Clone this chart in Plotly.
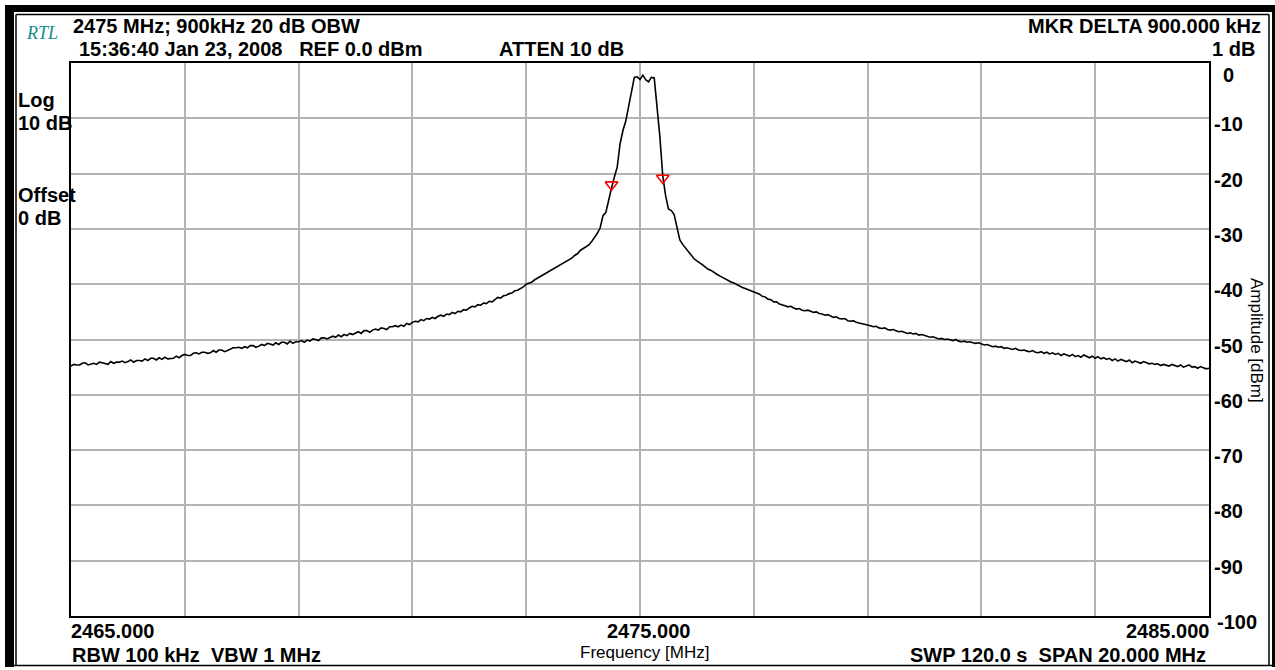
import numpy as np
import plotly.graph_objects as go

# ---------------- data ----------------
freq_start = 2465.0
freq_stop = 2485.0
n_points = 401
freq = np.linspace(freq_start, freq_stop, n_points)

amplitude = [
    -54.8, -54.5, -54.6, -54.6, -54.3, -54.2, -54.6, -54.4, -54.3, -54.5, -54.1, -54.2, -54.4, -54.5, -54.0, -54.3, -54.1, -54.1, -53.9, -54.2,
    -54.0, -53.7, -54.1, -53.8, -53.8, -53.9, -53.5, -53.8, -53.4, -53.4, -53.7, -53.3, -53.6, -53.2, -53.5, -53.5, -53.4, -53.0, -53.3, -52.9,
    -52.7, -52.9, -52.9, -52.5, -52.4, -52.6, -52.3, -52.3, -52.5, -52.4, -52.0, -52.3, -51.9, -51.9, -52.2, -52.0, -51.8, -51.5, -51.5, -51.4,
    -51.6, -51.3, -51.5, -51.1, -51.1, -51.4, -51.2, -50.9, -51.1, -50.7, -50.8, -51.0, -50.6, -50.9, -50.5, -50.5, -50.8, -50.3, -50.7, -50.4,
    -50.4, -50.2, -50.5, -50.1, -50.3, -49.9, -50.0, -50.2, -49.7, -49.7, -49.9, -49.6, -49.4, -49.6, -49.2, -49.5, -49.1, -49.3, -48.9, -49.1,
    -48.8, -48.6, -48.9, -48.4, -48.4, -48.7, -48.3, -48.1, -48.3, -47.9, -48.0, -48.2, -47.7, -47.7, -47.5, -47.7, -47.4, -47.6, -47.1, -47.3,
    -46.9, -46.7, -46.8, -46.4, -46.6, -46.2, -46.3, -46.0, -46.2, -45.8, -45.6, -45.8, -45.4, -45.5, -45.1, -45.3, -44.9, -45.0, -44.6, -44.7,
    -44.3, -44.0, -44.1, -43.7, -43.8, -43.4, -43.5, -43.1, -43.2, -42.8, -42.4, -42.5, -42.1, -42.0, -41.7, -41.6, -41.2, -41.1, -40.8, -40.5,
    -40.0, -39.8, -39.6, -39.2, -38.9, -38.6, -38.4, -38.0, -37.7, -37.5, -37.2, -36.8, -36.5, -36.2, -35.9, -35.6, -35.3, -34.8, -34.5, -33.9,
    -33.6, -33.3, -32.9, -32.3, -31.6, -30.8, -29.8, -27.6, -27.0, -24.6, -22.6, -20.6, -18.8, -14.6, -12.2, -10.5, -8.0, -5.0, -2.6, -2.5,
    -3.0, -2.2, -3.0, -3.4, -2.6, -2.7, -8.0, -13.4, -20.4, -24.0, -26.4, -26.7, -27.4, -29.8, -32.0, -32.8, -33.5, -34.0, -34.8, -35.4,
    -35.8, -36.1, -36.5, -36.9, -37.3, -37.5, -37.9, -38.2, -38.5, -38.8, -39.1, -39.3, -39.6, -39.8, -40.1, -40.3, -40.6, -40.8, -41.0, -41.2,
    -41.4, -41.7, -41.8, -42.2, -42.3, -42.7, -42.8, -43.2, -43.2, -43.6, -43.7, -43.9, -44.1, -44.0, -44.3, -44.5, -44.4, -44.7, -44.8, -44.7,
    -44.9, -45.1, -45.0, -45.3, -45.4, -45.6, -45.5, -45.8, -46.0, -45.9, -46.2, -46.3, -46.2, -46.6, -46.7, -46.6, -46.9, -47.0, -47.1, -47.2,
    -47.4, -47.5, -47.7, -47.6, -47.9, -48.0, -47.9, -48.2, -48.3, -48.2, -48.4, -48.6, -48.5, -48.7, -48.9, -48.8, -49.0, -48.9, -49.2, -49.1,
    -49.3, -49.4, -49.6, -49.5, -49.7, -49.9, -49.8, -50.0, -49.9, -50.1, -50.2, -50.0, -50.3, -50.4, -50.3, -50.5, -50.4, -50.6, -50.7, -50.6,
    -50.8, -51.0, -50.9, -51.1, -51.3, -51.2, -51.4, -51.3, -51.6, -51.5, -51.7, -51.8, -51.6, -51.9, -52.0, -51.9, -52.1, -52.2, -52.0, -52.3,
    -52.4, -52.2, -52.5, -52.3, -52.6, -52.4, -52.7, -52.5, -52.9, -52.6, -52.8, -53.0, -52.7, -53.1, -52.9, -53.2, -52.8, -53.1, -53.3, -53.0,
    -53.4, -53.1, -53.5, -53.3, -53.6, -53.4, -53.8, -53.5, -53.9, -53.6, -53.8, -54.0, -53.7, -54.2, -53.9, -54.1, -54.3, -54.0, -54.2, -54.4,
    -54.3, -54.5, -54.4, -54.7, -54.5, -54.6, -54.8, -54.5, -54.7, -54.9, -54.6, -55.0, -54.8, -54.6, -55.0, -54.9, -55.2, -54.9, -55.1, -55.3,
    -55.2,
]

marker_freqs = [2474.50, 2475.40]
marker_amps = [-22.0, -20.8]

ytick_values = [0, -10, -20, -30, -40, -50, -60, -70, -80, -90, -100]
ytick_labels = ["0", "-10", "-20", "-30", "-40", "-50", "-60", "-70", "-80", "-90", "-100"]
xtick_values = [2465.0, 2475.0, 2485.0]
xtick_labels = ["2465.000", "2475.000", "2485.000"]
xgrid_values = [2465, 2467, 2469, 2471, 2473, 2475, 2477, 2479, 2481, 2483, 2485]

# ---------------- layout geometry ----------------
W, H = 1275, 670
L, R, T, B = 71, 66, 63, 54
PW, PH = W - L - R, H - T - B


def px(X):
    return (X - L) / PW


def py(Y):
    return (H - B - Y) / PH


SANS = "Liberation Sans, Arial, sans-serif"
BOLD = dict(family=SANS, size=20, color="black", weight="bold")
NB = "\u00a0"

fig = go.Figure()
fig.add_trace(go.Scatter(
    x=freq, y=amplitude, mode="lines",
    line=dict(color="black", width=1.6), hoverinfo="skip", showlegend=False,
))
fig.add_trace(go.Scatter(
    x=marker_freqs, y=marker_amps, mode="markers",
    marker=dict(symbol="triangle-down-open", size=11, color="red", line=dict(width=1.6, color="red")),
    hoverinfo="skip", showlegend=False,
))

fig.update_xaxes(
    range=[freq_start, freq_stop], tickvals=xgrid_values, showticklabels=False,
    showgrid=True, gridcolor="#b4b4b4", gridwidth=2, zeroline=False,
    showline=True, linecolor="black", linewidth=2, mirror=True, ticks="",
)
fig.update_yaxes(
    range=[-100, 0], tickvals=ytick_values, showticklabels=False, side="right",
    showgrid=True, gridcolor="#b4b4b4", gridwidth=2, zeroline=False,
    showline=True, linecolor="black", linewidth=2, mirror=True, ticks="",
)

ann = []


def text(X, Y, s, anchor="left", font=None, **kw):
    ann.append(dict(x=px(X), y=py(Y), xref="paper", yref="paper", text=s,
                    showarrow=False, xanchor=anchor, yanchor="middle",
                    font=font or BOLD, **kw))


# header
text(24, 33, "RTL", font=dict(family="Liberation Serif, Times New Roman, serif", size=18,
                              color="#178a90", style="italic"))
text(71, 26, "2475 MHz; 900kHz 20 dB OBW")
text(77, 49, "15:36:40 Jan 23, 2008" + NB + NB + " REF 0.0 dBm")
text(497, 49, "ATTEN 10 dB")
text(1263, 26, "MKR DELTA 900.000 kHz", anchor="right")
text(1257, 49, "1 dB", anchor="right")
# left side labels
text(16, 100, "Log")
text(16, 123, "10 dB")
text(16, 195, "Offset")
text(16, 218, "0 dB")
# footer
text(70, 655, "RBW 100 kHz" + NB + " VBW 1 MHz")
text(644, 652, "Frequency [MHz]", anchor="center",
     font=dict(family=SANS, size=17, color="black"))
text(1208, 655, "SWP 120.0 s" + NB + " SPAN 20.000 MHz", anchor="right")
# axis title
ann.append(dict(x=px(1257), y=py(340), xref="paper", yref="paper", text="Amplitude [dBm]",
                showarrow=False, textangle=90, xanchor="center", yanchor="middle",
                font=dict(family=SANS, size=17, color="black")))

# y tick labels
for v, s in zip(ytick_values, ytick_labels):
    shift = -12 if v == 0 else -6
    xpos = 1237 if v == -100 else 1228
    ann.append(dict(x=px(xpos), y=v, xref="paper", yref="y", text=s, showarrow=False,
                    xanchor="center", yanchor="middle", yshift=shift, font=BOLD))

# x tick labels
for v, s, a in zip(xtick_values, xtick_labels, ["left", "center", "right"]):
    xs = {"left": -2, "center": 8, "right": 2}[a]
    ann.append(dict(x=v, y=0, xref="x", yref="paper", text=s, showarrow=False,
                    xanchor=a, yanchor="middle", yshift=-15, xshift=xs, font=BOLD))

# window frame
shapes = []


def rect(X0, Y0, X1, Y1):
    shapes.append(dict(type="rect", xref="paper", yref="paper",
                       x0=px(X0), x1=px(X1), y0=py(Y0), y1=py(Y1),
                       fillcolor="black", line=dict(width=0), layer="above"))


def line(X0, Y0, X1, Y1, lw):
    shapes.append(dict(type="line", xref="paper", yref="paper",
                       x0=px(X0), x1=px(X1), y0=py(Y0), y1=py(Y1),
                       line=dict(color="black", width=lw), layer="above"))


rect(5, 5, 14, 667)        # left thick bar
rect(5, 5, 1280, 12)       # top thick bar
rect(1272, 5, 1280, 667)   # right thick bar
# inner thin frame
line(16, 14.5, 1269, 14.5, 1.5)
line(16, 14.5, 16, 665.5, 1.5)
line(1269, 14.5, 1269, 665.5, 1.5)
line(14, 665.5, 1275, 665.5, 1.5)

fig.update_layout(
    width=W, height=H,
    margin=dict(l=L, r=R, t=T, b=B, pad=0),
    paper_bgcolor="white", plot_bgcolor="white",
    annotations=ann, shapes=shapes, showlegend=False,
)

fig.write_html(
    "out.html",
    config={"displayModeBar": False, "staticPlot": True},
    post_script="document.body.style.margin='0';document.body.style.overflow='hidden';",
)
